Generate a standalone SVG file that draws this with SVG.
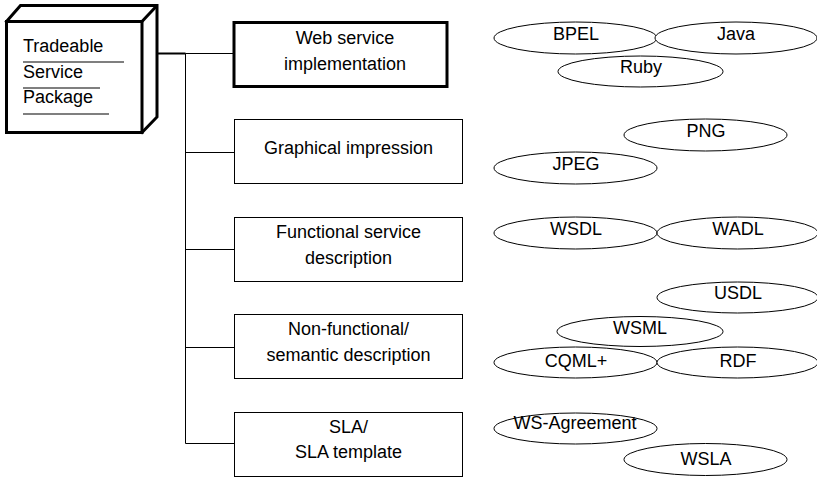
<svg xmlns="http://www.w3.org/2000/svg" width="817" height="478" viewBox="0 0 817 478">
<style>
text{font-family:"Liberation Sans",Arial,Helvetica,sans-serif;font-size:18px;fill:#000}
.c{text-anchor:middle}
.box{fill:#fff;stroke:#000;stroke-width:1}
.bold{fill:#fff;stroke:#000;stroke-width:3}
.ell{fill:#fff;stroke:#000;stroke-width:1}
.con{fill:none;stroke:#000;stroke-width:1}
.sep{stroke:#000;stroke-width:1.2}
</style>
<rect width="817" height="478" fill="#fff"/>
<g id="connectors">
<path class="con" d="M157 53.5H185.5V443.5M185.5 53.5H233M185.5 152.5H234M185.5 249.5H234M185.5 347.5H234M185.5 443.5H234"/>
<path d="M157 53.5H185.5" stroke="#000" stroke-width="2" fill="none"/>
</g>
<g id="tsp">
<path class="bold" d="M6.5 21.5L20.5 5.5H157V117L142 132.5Z"/>
<path d="M142 21.5L157 5.5" stroke="#000" stroke-width="3" fill="none"/>
<rect class="bold" x="6.5" y="21.5" width="135.5" height="111"/>
<text x="23" y="52">Tradeable</text>
<line class="sep" x1="23" y1="62" x2="124" y2="62"/>
<text x="23" y="77.5">Service</text>
<line class="sep" x1="23" y1="88" x2="100" y2="88"/>
<text x="23" y="103">Package</text>
<line class="sep" x1="23" y1="114" x2="109" y2="114"/>
</g>
<g id="web">
<rect class="bold" x="234" y="22.5" width="213" height="64"/>
<text class="c" x="345" y="44">Web service</text>
<text class="c" x="345" y="70">implementation</text>
</g>
<g id="graphical">
<rect class="box" x="234.5" y="119.5" width="228" height="64"/>
<text class="c" x="348.5" y="154">Graphical impression</text>
</g>
<g id="functional">
<rect class="box" x="234.5" y="217.5" width="228" height="64"/>
<text class="c" x="348.5" y="238">Functional service</text>
<text class="c" x="348.5" y="264">description</text>
</g>
<g id="nonfunctional">
<rect class="box" x="234.5" y="314.5" width="228" height="64"/>
<text class="c" x="348.5" y="335">Non-functional/</text>
<text class="c" x="348.5" y="361">semantic description</text>
</g>
<g id="sla">
<rect class="box" x="234.5" y="412.5" width="228" height="64"/>
<text class="c" x="348.5" y="433">SLA/</text>
<text class="c" x="348.5" y="458">SLA template</text>
</g>
<g id="bpel"><ellipse class="ell" cx="575.5" cy="38" rx="81.5" ry="16"/><text class="c" x="576" y="40">BPEL</text></g>
<g id="java"><ellipse class="ell" cx="736" cy="38" rx="81" ry="16"/><text class="c" x="736" y="40">Java</text></g>
<g id="ruby"><ellipse class="ell" cx="640.5" cy="71.5" rx="82.5" ry="15.5"/><text class="c" x="641" y="72.5">Ruby</text></g>
<g id="png"><ellipse class="ell" cx="705.5" cy="135" rx="81.5" ry="16"/><text class="c" x="706" y="137">PNG</text></g>
<g id="jpeg"><ellipse class="ell" cx="575.5" cy="168" rx="81.5" ry="16"/><text class="c" x="576" y="170">JPEG</text></g>
<g id="wsdl"><ellipse class="ell" cx="575.5" cy="233" rx="81.5" ry="16"/><text class="c" x="576" y="235">WSDL</text></g>
<g id="wadl"><ellipse class="ell" cx="737.5" cy="233" rx="80.5" ry="16"/><text class="c" x="738" y="235">WADL</text></g>
<g id="usdl"><ellipse class="ell" cx="737.5" cy="297.5" rx="80.5" ry="15.5"/><text class="c" x="738" y="299">USDL</text></g>
<g id="wsml"><ellipse class="ell" cx="640" cy="331.5" rx="83" ry="15"/><text class="c" x="640" y="334">WSML</text></g>
<g id="cqml"><ellipse class="ell" cx="575.5" cy="362.5" rx="81.5" ry="15.5"/><text class="c" x="576" y="367">CQML+</text></g>
<g id="rdf"><ellipse class="ell" cx="737.5" cy="362.5" rx="80.5" ry="15.5"/><text class="c" x="738" y="367">RDF</text></g>
<g id="wsagreement"><ellipse class="ell" cx="575.5" cy="428.5" rx="81.5" ry="15.5"/><text class="c" x="575" y="429">WS-Agreement</text></g>
<g id="wsla"><ellipse class="ell" cx="705.5" cy="459.5" rx="81.5" ry="16"/><text class="c" x="706" y="465">WSLA</text></g>
</svg>
